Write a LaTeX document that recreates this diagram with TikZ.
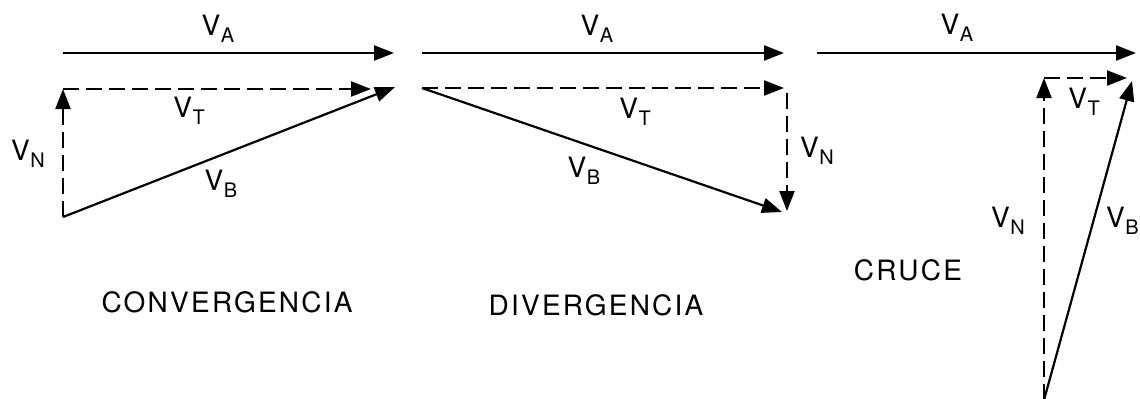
\documentclass[tikz,border=0pt]{standalone}
\usepackage{fontspec}
\setmainfont{TeX Gyre Heros}
\usetikzlibrary{arrows.meta}
\newcommand{\vel}[1]{V\kern0.3pt\raisebox{-3.5pt}{\fontsize{10}{10}\selectfont #1}}

\begin{document}
\begin{tikzpicture}[x=0.5pt,y=-0.5pt,>={Triangle[length=10pt,width=7.5pt]},line width=1.1pt,
  vec/.style={->},
  comp/.style={->,dash pattern=on 8pt off 3.5pt},
  lab/.style={anchor=base,inner sep=0pt,font=\fontsize{14}{16}\selectfont},
  caso/.style={anchor=base,inner sep=0pt,font=\fontsize{14}{16}\selectfont\addfontfeature{LetterSpace=8}}]
  \useasboundingbox (0,0) rectangle (1140,398);
  % convergencia
  \coordinate (a1) at (63,53);  \coordinate (a1e) at (394,53);
  \coordinate (o1) at (63,89);  \coordinate (t1e) at (371,89);
  \coordinate (n1) at (63,217); \coordinate (b1e) at (395,87);
  \draw[vec] (a1) -- (a1e);
  \draw[comp] (o1) -- (t1e);
  \draw[comp] (n1) -- (o1);
  \draw[vec] (n1) -- (b1e);
  \node[lab] (la1) at (218,35) {\vel{A}};
  \node[lab] (lt1) at (189,117) {\vel{T}};
  \node[lab] (ln1) at (28,160) {\vel{N}};
  \node[lab] (lb1) at (221,190) {\vel{B}};
  \node[caso] (conv) at (227,312) {CONVERGENCIA};
  % divergencia
  \coordinate (a2) at (422,53);  \coordinate (a2e) at (784,53);
  \coordinate (o2) at (422,88);  \coordinate (t2e) at (784,88);
  \coordinate (n2) at (787,93);  \coordinate (n2e) at (787,211);
  \coordinate (b2e) at (782,212);
  \draw[vec] (a2) -- (a2e);
  \draw[comp] (o2) -- (t2e);
  \draw[comp] (n2) -- (n2e);
  \draw[vec] (o2) -- (b2e);
  \node[lab] (la2) at (597,35) {\vel{A}};
  \node[lab] (lt2) at (635,118) {\vel{T}};
  \node[lab] (ln2) at (817,157) {\vel{N}};
  \node[lab] (lb2) at (584,177) {\vel{B}};
  \node[caso] (div) at (596,315) {DIVERGENCIA};
  % cruce
  \coordinate (a3) at (817,53);   \coordinate (a3e) at (1136,53);
  \coordinate (o3) at (1044,78);  \coordinate (t3e) at (1127,78);
  \coordinate (n3) at (1044,400); \coordinate (b3e) at (1132,81);
  \draw[vec] (a3) -- (a3e);
  \draw[comp] (o3) -- (t3e);
  \draw[comp] (n3) -- (o3);
  \draw[vec] (n3) -- (b3e);
  \node[lab] (la3) at (957,34) {\vel{A}};
  \node[lab] (lt3) at (1084,108) {\vel{T}};
  \node[lab] (ln3) at (1008,227) {\vel{N}};
  \node[lab,anchor=base west] (lb3) at (1105,227) {\vel{B}};
  \node[caso] (cruce) at (908,280) {CRUCE};
\end{tikzpicture}
\end{document}
